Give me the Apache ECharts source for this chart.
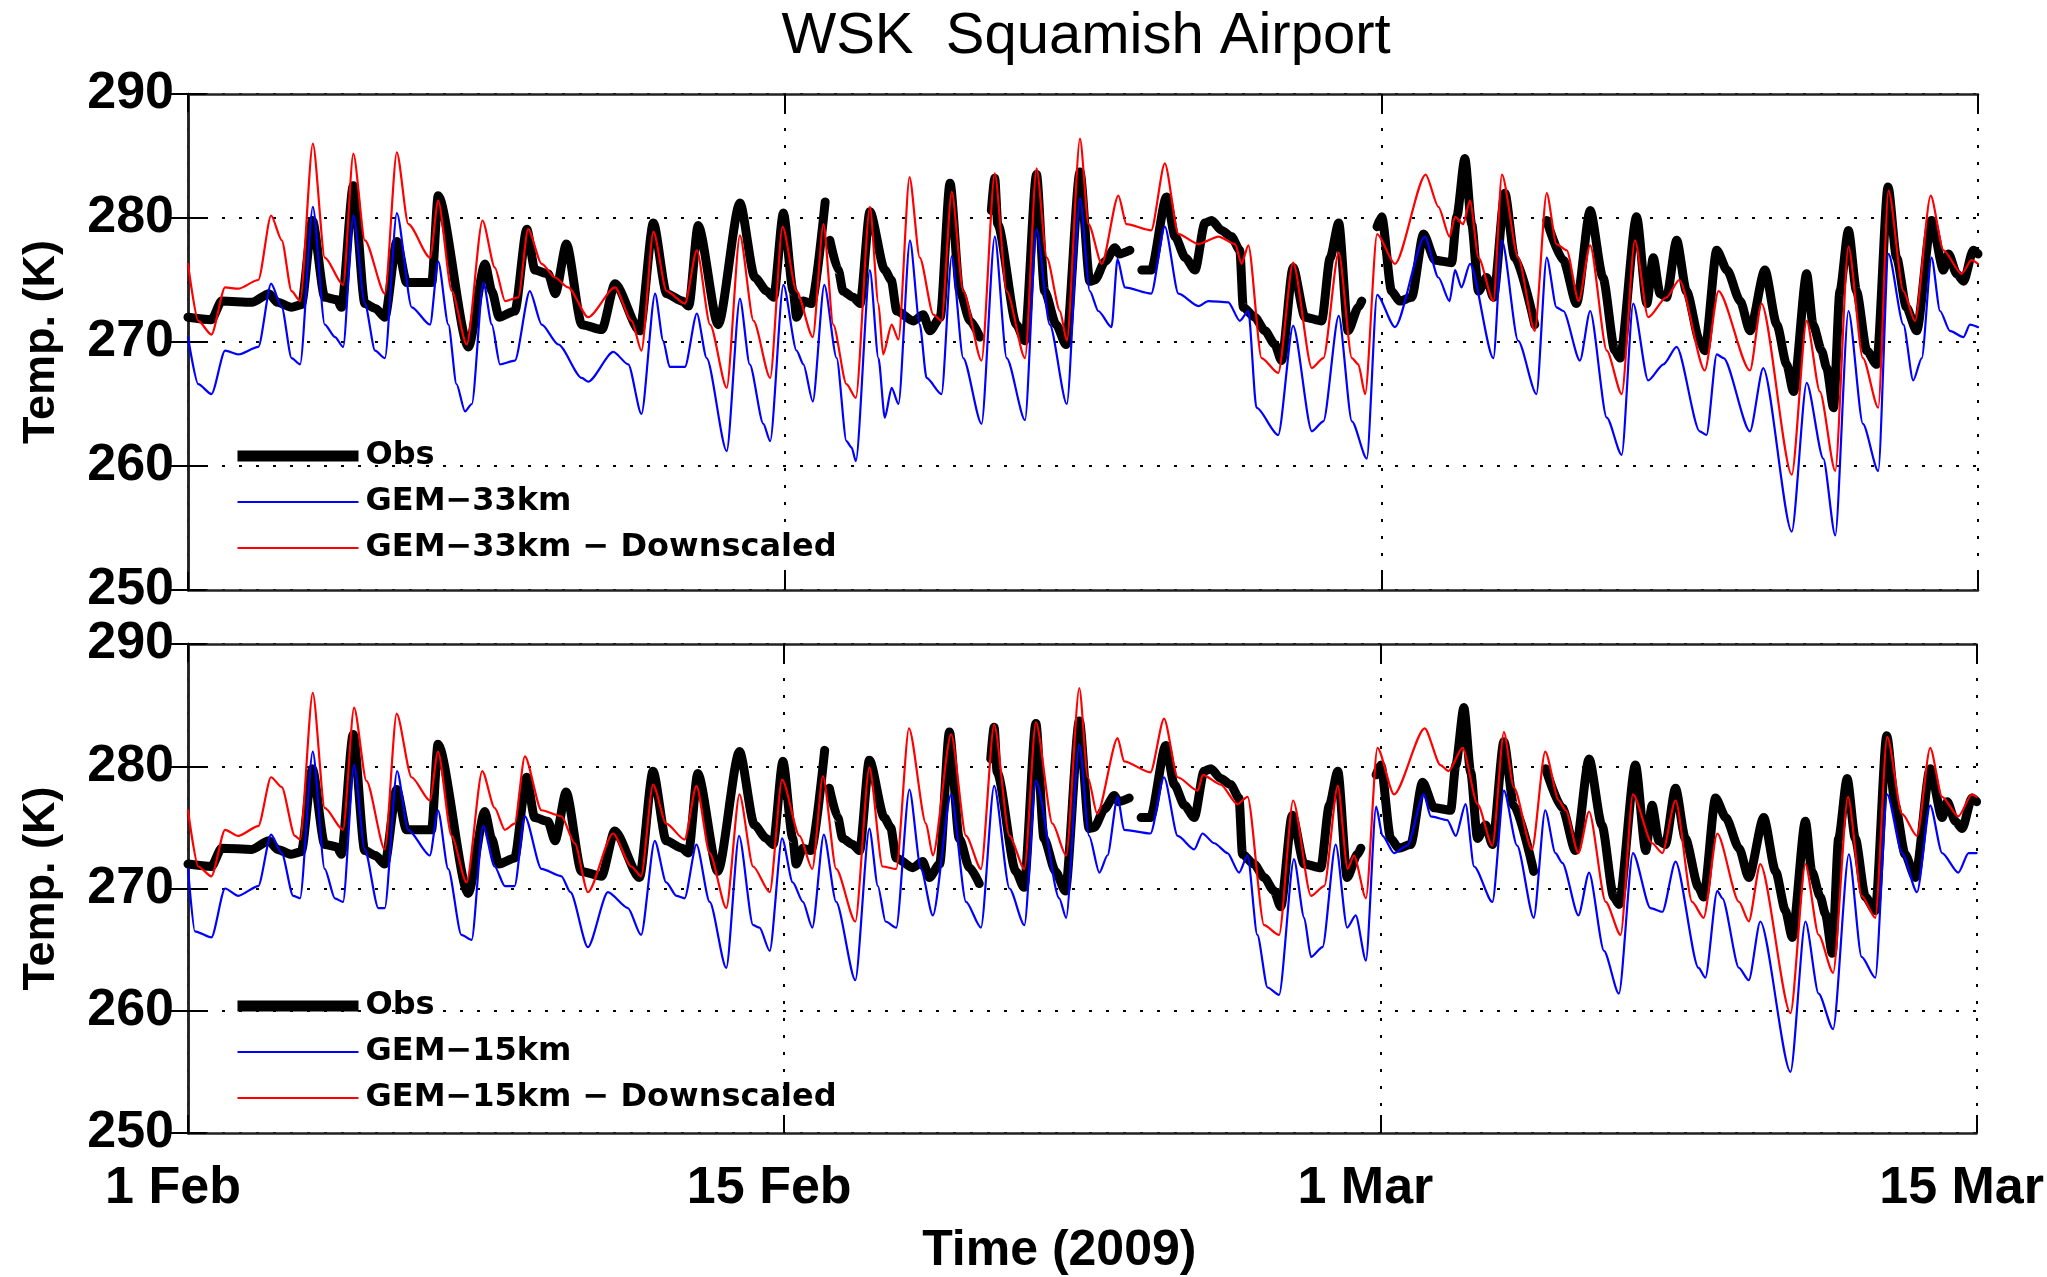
<!DOCTYPE html>
<html>
<head>
<meta charset="utf-8">
<title>WSK Squamish Airport</title>
<script src="https://cdn.jsdelivr.net/npm/echarts@6/dist/echarts.min.js"></script>
<style>
  html, body { margin: 0; padding: 0; background: #fff; }
  #chart { width: 2047px; height: 1277px; }
</style>
</head>
<body>
<div id="chart"></div>
<script>
// Time axis: days since 1 Feb 2009 00:00
const xTickDays = [0, 14, 28, 42];
const xTickLabels = ['1 Feb', '15 Feb', '1 Mar', '15 Mar'];
const yTicks = [250, 260, 270, 280, 290];

// Station observations (K); null marks missing records
const obsData = [
[0.00,272.0],[0.55,271.8],[0.79,273.3],[1.50,273.2],[1.90,273.9],[2.10,273.2],[2.43,272.8],[2.66,273.0],[2.92,279.8],[3.21,273.6],[3.50,273.4],[3.60,272.8],[3.88,282.6],[4.15,273.1],[4.40,272.7],[4.62,272.0],[4.90,278.1],[5.13,274.8],[5.72,274.8],[5.87,281.8],[6.58,269.6],[6.97,276.3],[7.13,274.1],[7.30,272.0],[7.67,272.5],[7.95,279.1],[8.14,275.8],[8.45,275.5],[8.62,273.9],[8.88,277.9],[9.24,271.4],[9.71,271.0],[10.02,274.7],[10.60,270.9],[10.92,279.6],[11.23,273.9],[11.60,273.3],[11.75,272.9],[11.97,279.4],[12.44,271.4],[12.95,281.2],[13.30,275.2],[13.58,274.1],[13.74,273.6],[13.97,280.4],[14.20,274.1],[14.28,272.0],[14.44,273.3],[14.63,273.1],[14.95,281.3],[15.00,null],[15.06,278.2],[15.26,275.8],[15.37,274.1],[15.61,273.6],[15.77,273.1],[16.00,280.5],[16.35,275.8],[16.50,275.0],[16.63,272.5],[17.02,271.7],[17.25,272.2],[17.41,270.9],[17.65,272.0],[17.88,282.8],[18.11,274.1],[18.35,271.7],[18.58,270.4],[18.70,null],[18.85,280.6],[18.93,283.2],[19.00,279.5],[19.44,271.4],[19.63,270.1],[19.91,283.5],[20.10,274.1],[20.37,271.4],[20.60,269.8],[20.93,283.7],[21.16,274.9],[21.28,275.0],[21.52,276.5],[21.75,277.6],[21.85,277.1],[22.10,277.4],[22.20,null],[22.38,275.8],[22.60,275.8],[22.96,281.7],[23.16,278.5],[23.40,276.8],[23.63,275.8],[23.86,279.6],[24.02,279.8],[24.25,279.0],[24.48,278.5],[24.68,277.4],[24.76,272.8],[25.03,272.0],[25.27,270.9],[25.50,269.8],[25.66,268.5],[25.93,276.0],[26.21,272.0],[26.60,271.7],[26.80,276.8],[27.00,279.6],[27.22,270.9],[27.46,272.8],[27.54,273.3],[27.70,null],[27.90,279.3],[28.01,280.1],[28.24,274.1],[28.43,273.3],[28.71,273.6],[28.99,278.7],[29.26,276.6],[29.65,276.4],[29.77,280.1],[29.96,284.8],[30.12,279.5],[30.28,274.1],[30.47,275.2],[30.63,273.6],[30.90,282.0],[31.13,276.8],[31.60,271.4],[31.72,null],[31.88,279.8],[32.27,276.6],[32.58,273.1],[32.90,280.6],[33.20,275.2],[33.48,269.3],[33.60,268.7],[33.99,280.1],[34.23,273.1],[34.38,276.8],[34.54,273.9],[34.69,273.6],[34.93,278.2],[35.16,274.1],[35.47,270.1],[35.59,269.3],[35.87,277.4],[36.11,275.8],[36.42,273.3],[36.65,270.9],[37.00,275.8],[37.28,271.4],[37.51,268.2],[37.67,266.0],[37.98,275.5],[38.13,271.4],[38.33,269.3],[38.45,267.9],[38.61,264.7],[38.76,274.1],[38.96,279.0],[39.15,274.1],[39.39,269.3],[39.62,268.2],[39.89,282.5],[40.09,276.8],[40.32,272.8],[40.56,270.9],[40.91,279.8],[41.19,275.8],[41.31,277.1],[41.50,275.5],[41.66,274.9],[41.89,277.4],[42.00,277.1]
];

// GEM 33 km model output (K)
const gem33Data = [
[0.00,270.4],[0.24,266.6],[0.55,265.8],[0.87,269.3],[1.18,269.0],[1.65,269.6],[1.95,274.7],[2.20,272.8],[2.43,268.7],[2.63,268.2],[2.93,280.9],[3.21,271.4],[3.45,270.4],[3.64,269.6],[3.88,280.2],[4.15,273.1],[4.39,269.3],[4.62,268.7],[4.90,280.4],[5.25,272.8],[5.68,271.4],[5.87,276.5],[6.11,271.4],[6.30,266.6],[6.50,264.4],[6.66,265.0],[6.93,274.8],[7.13,271.4],[7.32,268.2],[7.67,268.5],[8.02,274.1],[8.30,271.4],[8.69,269.8],[9.24,267.1],[9.39,266.8],[9.98,269.2],[10.33,268.2],[10.64,264.2],[10.96,273.9],[11.15,270.1],[11.30,268.0],[11.66,268.0],[11.94,272.3],[12.17,268.7],[12.64,261.2],[12.95,273.5],[13.18,268.2],[13.50,263.4],[13.66,262.0],[13.97,274.6],[14.28,269.3],[14.44,268.2],[14.66,265.2],[14.93,274.6],[15.22,268.7],[15.45,262.0],[15.57,261.5],[15.67,260.4],[16.00,275.8],[16.20,268.7],[16.35,263.9],[16.51,266.3],[16.67,265.0],[16.94,278.2],[17.17,271.4],[17.33,267.1],[17.68,265.8],[17.92,276.9],[18.19,268.7],[18.62,263.4],[18.93,278.5],[19.21,268.7],[19.64,263.7],[19.91,279.1],[20.22,271.4],[20.62,265.0],[20.93,281.6],[21.16,274.1],[21.36,272.5],[21.67,271.2],[21.81,276.7],[21.98,274.4],[22.60,273.9],[22.92,279.3],[23.24,273.9],[23.71,272.9],[23.94,273.3],[24.41,273.2],[24.68,271.7],[24.88,272.5],[25.07,264.7],[25.58,262.5],[25.93,271.3],[26.37,262.8],[26.64,263.6],[27.00,272.1],[27.31,263.6],[27.66,260.6],[27.90,273.8],[28.32,271.2],[29.02,278.5],[29.34,275.2],[29.60,273.3],[29.73,275.8],[29.88,274.4],[30.08,276.3],[30.63,268.7],[30.83,278.2],[31.21,270.1],[31.64,265.8],[31.88,276.8],[32.11,272.8],[32.27,272.5],[32.66,268.5],[32.90,272.5],[33.29,263.9],[33.64,260.9],[33.91,273.1],[34.26,266.9],[34.62,268.2],[34.93,269.6],[35.47,262.8],[35.63,262.5],[35.87,269.0],[36.03,268.7],[36.65,262.8],[36.96,267.9],[37.63,254.7],[37.98,266.7],[38.37,260.6],[38.65,254.4],[38.96,272.5],[39.30,263.4],[39.66,259.6],[39.90,277.1],[40.25,271.4],[40.48,266.9],[40.68,268.7],[40.91,276.8],[41.11,272.5],[41.34,270.9],[41.66,270.4],[41.81,271.4],[42.00,271.2]
];

// GEM 33 km downscaled to the station (K)
const gem33DsData = [
[0.00,276.3],[0.24,271.7],[0.55,270.6],[0.87,274.4],[1.18,274.3],[1.65,275.0],[1.95,280.2],[2.20,278.2],[2.43,274.1],[2.63,273.3],[2.93,286.0],[3.21,276.8],[3.64,274.6],[3.88,285.2],[4.15,278.2],[4.62,273.9],[4.90,285.3],[5.17,279.5],[5.68,276.8],[5.87,281.4],[6.19,274.1],[6.54,269.8],[6.91,279.8],[7.20,276.0],[7.44,273.3],[7.75,273.6],[7.98,279.1],[8.30,276.3],[8.61,275.2],[8.92,274.4],[9.39,272.0],[10.02,274.4],[10.41,271.7],[10.64,269.3],[10.92,278.9],[11.23,274.1],[11.66,273.1],[11.94,277.4],[12.25,271.4],[12.64,266.3],[12.95,278.6],[13.27,271.7],[13.66,267.1],[13.95,279.3],[14.28,274.1],[14.66,270.4],[14.91,279.5],[15.14,271.4],[15.45,266.6],[15.67,265.5],[16.00,280.9],[16.20,273.1],[16.31,269.0],[16.51,271.4],[16.67,270.2],[16.93,283.3],[17.17,276.8],[17.49,272.2],[17.68,271.7],[17.92,282.1],[18.19,274.1],[18.62,268.5],[18.93,283.6],[19.21,274.1],[19.64,268.7],[19.91,284.0],[20.15,276.8],[20.46,272.5],[20.62,270.1],[20.93,286.4],[21.13,279.5],[21.44,276.3],[21.83,281.8],[22.02,279.5],[22.60,279.0],[22.92,284.4],[23.24,278.7],[23.71,277.9],[24.18,278.5],[24.57,277.9],[24.72,276.3],[24.88,277.8],[25.19,268.7],[25.58,267.5],[25.93,276.4],[26.37,267.9],[26.64,268.7],[27.00,277.2],[27.31,268.7],[27.46,268.2],[27.62,265.8],[27.90,278.7],[28.32,276.3],[29.04,283.5],[29.34,280.9],[29.60,278.5],[29.73,280.1],[29.92,279.5],[30.08,281.4],[30.28,276.8],[30.63,273.3],[30.83,283.5],[31.21,276.8],[31.60,270.9],[31.88,282.0],[32.11,277.9],[32.35,277.4],[32.63,273.3],[32.90,277.8],[33.29,269.3],[33.64,265.8],[33.95,278.2],[34.26,272.0],[34.69,273.6],[34.99,275.0],[35.59,267.7],[35.91,274.1],[36.65,267.7],[36.92,273.1],[37.63,259.3],[37.98,271.7],[38.29,266.0],[38.65,259.6],[38.96,277.7],[39.30,268.7],[39.66,264.7],[39.90,282.2],[40.25,274.1],[40.52,271.7],[40.89,281.8],[41.19,277.4],[41.61,275.5],[41.85,276.6],[42.00,276.3]
];

// GEM 15 km model output (K)
const gem15Data = [
[0.00,271.6],[0.16,266.5],[0.55,266.0],[0.87,270.0],[1.18,269.4],[1.65,270.2],[1.95,274.4],[2.20,272.9],[2.47,269.4],[2.63,269.2],[2.93,281.2],[3.21,271.6],[3.45,269.2],[3.64,268.9],[3.90,280.1],[4.15,273.2],[4.47,268.4],[4.62,268.4],[4.91,279.6],[5.17,274.8],[5.68,272.7],[5.87,276.4],[6.11,271.6],[6.42,266.2],[6.66,265.8],[6.93,275.1],[7.20,271.8],[7.44,270.2],[7.67,270.2],[7.91,275.9],[8.30,271.6],[8.77,271.0],[8.98,269.7],[9.39,265.2],[9.86,269.7],[10.33,268.4],[10.64,266.2],[10.96,273.9],[11.23,270.5],[11.47,269.4],[11.66,269.2],[11.94,273.6],[12.25,268.9],[12.64,263.5],[12.94,274.3],[13.27,267.0],[13.42,266.8],[13.66,264.9],[13.95,274.1],[14.20,270.5],[14.44,268.9],[14.66,266.8],[14.93,274.4],[15.22,268.9],[15.67,262.5],[16.00,274.9],[16.20,270.2],[16.38,267.3],[16.63,266.8],[16.94,278.1],[17.21,271.6],[17.49,267.8],[17.92,277.7],[18.27,268.9],[18.62,266.8],[18.93,278.4],[19.29,270.0],[19.64,267.0],[19.91,278.8],[20.46,269.2],[20.62,267.6],[20.93,281.8],[21.16,274.3],[21.40,271.3],[21.59,272.7],[21.83,277.5],[21.98,274.8],[22.60,274.5],[22.92,279.1],[23.24,274.3],[23.63,273.2],[23.82,274.5],[24.10,273.7],[24.41,272.9],[24.68,271.3],[24.88,272.7],[25.11,266.2],[25.35,261.9],[25.62,261.3],[25.97,272.4],[26.21,267.6],[26.37,264.4],[26.64,265.2],[26.95,273.6],[27.22,266.8],[27.42,267.8],[27.66,264.1],[27.90,276.7],[28.05,274.3],[28.32,272.9],[28.63,273.5],[29.02,277.7],[29.18,275.9],[29.57,275.6],[29.77,274.3],[30.00,276.9],[30.20,271.8],[30.63,268.9],[30.90,278.0],[31.21,273.5],[31.60,267.6],[31.87,276.4],[32.11,272.9],[32.27,272.1],[32.65,267.8],[32.90,271.3],[33.25,264.9],[33.60,261.4],[33.93,272.9],[34.34,268.4],[34.62,268.1],[34.93,272.2],[35.47,263.5],[35.63,262.7],[35.91,269.8],[36.03,269.2],[36.42,263.5],[36.65,262.5],[36.92,267.3],[37.63,255.0],[37.98,267.3],[38.29,261.4],[38.63,258.5],[39.00,272.8],[39.30,264.4],[39.62,262.7],[39.90,277.7],[40.25,272.9],[40.60,269.7],[40.91,276.8],[41.19,272.9],[41.57,271.3],[41.81,272.9],[42.00,272.9]
];

// GEM 15 km downscaled to the station (K)
const gem15DsData = [
[0.00,276.4],[0.24,271.8],[0.55,271.0],[0.87,274.8],[1.18,274.3],[1.65,275.1],[1.95,279.1],[2.20,278.3],[2.51,274.3],[2.63,274.0],[2.93,286.0],[3.21,276.6],[3.64,274.8],[3.90,284.8],[4.19,278.8],[4.62,273.2],[4.90,284.3],[5.25,279.1],[5.68,277.2],[5.87,281.2],[6.19,274.3],[6.54,270.5],[6.91,279.6],[7.20,276.6],[7.44,274.8],[7.67,275.3],[7.91,280.8],[8.30,276.4],[8.77,275.9],[9.08,273.7],[9.39,269.7],[9.98,274.5],[10.41,271.8],[10.64,271.0],[10.92,278.5],[11.23,275.3],[11.66,274.0],[11.94,278.4],[12.25,272.9],[12.64,268.4],[12.95,277.7],[13.27,271.8],[13.66,269.7],[13.95,278.9],[14.36,274.3],[14.66,271.6],[14.91,279.2],[15.22,271.6],[15.67,267.3],[16.00,279.9],[16.31,271.8],[16.63,271.6],[16.93,283.1],[17.33,275.3],[17.49,272.7],[17.92,282.6],[18.27,274.3],[18.62,271.6],[18.93,283.4],[19.29,274.3],[19.64,271.6],[19.91,283.6],[20.30,275.3],[20.62,272.7],[20.93,286.4],[21.13,279.1],[21.35,276.1],[21.83,282.3],[21.98,280.4],[22.60,279.5],[22.92,283.9],[23.24,279.1],[23.71,278.0],[23.83,279.3],[24.25,278.5],[24.64,276.9],[24.88,277.5],[25.27,267.0],[25.62,266.2],[25.95,277.2],[26.37,269.4],[26.68,270.2],[27.00,278.4],[27.23,271.6],[27.38,272.7],[27.66,269.2],[27.93,281.5],[28.32,277.7],[29.04,283.1],[29.41,280.1],[29.60,279.6],[29.93,281.5],[30.28,276.9],[30.63,273.5],[30.90,282.8],[31.13,278.3],[31.56,273.2],[31.87,281.2],[32.19,277.2],[32.35,276.4],[32.65,272.9],[32.90,276.3],[33.29,268.9],[33.64,266.2],[33.93,277.7],[34.38,273.7],[34.62,272.9],[34.93,277.2],[35.32,268.9],[35.59,267.6],[35.91,274.5],[36.42,268.9],[36.65,267.3],[36.92,272.0],[37.63,259.8],[37.98,272.0],[38.29,266.2],[38.63,263.1],[38.98,277.5],[39.30,269.4],[39.62,267.6],[39.90,282.4],[40.25,276.1],[40.60,274.3],[40.91,281.5],[41.19,277.5],[41.57,275.9],[41.89,277.7],[42.00,277.5]
];

const FONT = '"Liberation Sans", Arial, Helvetica, sans-serif';
const LEGEND_FONT = '"DejaVu Sans", Verdana, sans-serif';
const gridLine = { show: true, lineStyle: { color: '#000', width: 2, type: [3, 14] } };
const frame = { show: true, lineStyle: { color: '#222', width: 2.5 } };
const tickIn = { show: true, inside: true, length: 18, lineStyle: { color: '#000', width: 2 } };

function xAxes(gridIndex, withLabels) {
  const base = {
    type: 'value', gridIndex: gridIndex, min: xTickDays[0], max: xTickDays[xTickDays.length - 1],
    interval: xTickDays[1] - xTickDays[0]
  };
  return [
    Object.assign({}, base, {
      position: 'bottom',
      axisLine: frame, axisTick: tickIn, splitLine: gridLine,
      axisLabel: withLabels ? {
        show: true, fontFamily: FONT, fontWeight: 'bold', fontSize: 52, color: '#000',
        margin: 30, padding: [0, 30, 0, 0], showMinLabel: true, showMaxLabel: true,
        formatter: v => xTickLabels[xTickDays.indexOf(v)]
      } : { show: false },
      name: withLabels ? 'Time (2009)' : '',
      nameLocation: 'middle', nameGap: 93,
      nameTextStyle: { fontFamily: FONT, fontWeight: 'bold', fontSize: 50, color: '#000', padding: [0, 46, 0, 0] }
    }),
    Object.assign({}, base, {
      position: 'top',
      axisLine: frame, axisTick: tickIn, splitLine: { show: false }, axisLabel: { show: false }
    })
  ];
}

function yAxes(gridIndex) {
  const base = { type: 'value', gridIndex: gridIndex, min: yTicks[0], max: yTicks[yTicks.length - 1], interval: yTicks[1] - yTicks[0] };
  return [
    Object.assign({}, base, {
      position: 'left',
      axisLine: frame, axisTick: tickIn, splitLine: gridLine,
      axisLabel: { fontFamily: FONT, fontWeight: 'bold', fontSize: 52, color: '#000', margin: 14, showMinLabel: true, showMaxLabel: true },
      name: 'Temp. (K)', nameLocation: 'middle', nameGap: 124, nameRotate: 90,
      nameTextStyle: { fontFamily: FONT, fontWeight: 'bold', fontSize: 45, color: '#000' }
    }),
    Object.assign({}, base, {
      position: 'right',
      axisLine: frame, axisTick: tickIn, splitLine: { show: false }, axisLabel: { show: false }
    })
  ];
}

function line(name, data, xi, yi, color, width, z) {
  return {
    type: 'line', name: name, data: data, xAxisIndex: xi, yAxisIndex: yi,
    showSymbol: false, symbol: 'none', connectNulls: false, z: z,
    smooth: 0.25, smoothMonotone: 'x',
    lineStyle: { color: color, width: width, join: 'round', cap: 'round' },
    itemStyle: { color: color }
  };
}

function legend(top, names) {
  return {
    orient: 'vertical', left: 227, top: top, itemWidth: 121, itemHeight: 14, itemGap: 14,
    selectedMode: false,
    itemStyle: { opacity: 0 },
    data: [
      { name: names[0], lineStyle: { width: 11, color: '#000', cap: 'butt' } },
      { name: names[1], lineStyle: { width: 2.2, color: '#0000ff', cap: 'butt' } },
      { name: names[2], lineStyle: { width: 2.2, color: '#ff0000', cap: 'butt' } }
    ],
    textStyle: { fontFamily: LEGEND_FONT, fontWeight: 'bold', fontSize: 32, color: '#000', padding: [0, 0, 0, 2] }
  };
}

const chart = echarts.init(document.getElementById('chart'), null, { renderer: 'canvas' });
chart.setOption({
  animation: false,
  backgroundColor: '#fff',
  title: {
    text: 'WSK  Squamish Airport', left: 1081, top: 3, textAlign: 'center',
    textStyle: { fontFamily: FONT, fontWeight: 'normal', fontSize: 58, color: '#000' }
  },
  legend: [
    legend(435, ['Obs', 'GEM−33km', 'GEM−33km − Downscaled']),
    legend(985, ['Obs', 'GEM−15km', 'GEM−15km − Downscaled'])
  ],
  grid: [
    { left: 188, right: 69, top: 94, height: 496 },
    { left: 188, right: 69, top: 644, height: 497 }
  ],
  xAxis: xAxes(0, false).concat(xAxes(1, true)),
  yAxis: yAxes(0).concat(yAxes(1)),
  series: [
    line('Obs', obsData, 0, 0, '#000', 9, 2),
    line('GEM−33km', gem33Data, 0, 0, '#0000ff', 2.2, 3),
    line('GEM−33km − Downscaled', gem33DsData, 0, 0, '#ff0000', 2.2, 4),
    line('Obs', obsData, 2, 2, '#000', 9, 2),
    line('GEM−15km', gem15Data, 2, 2, '#0000ff', 2.2, 3),
    line('GEM−15km − Downscaled', gem15DsData, 2, 2, '#ff0000', 2.2, 4)
  ]
});
</script>
</body>
</html>
